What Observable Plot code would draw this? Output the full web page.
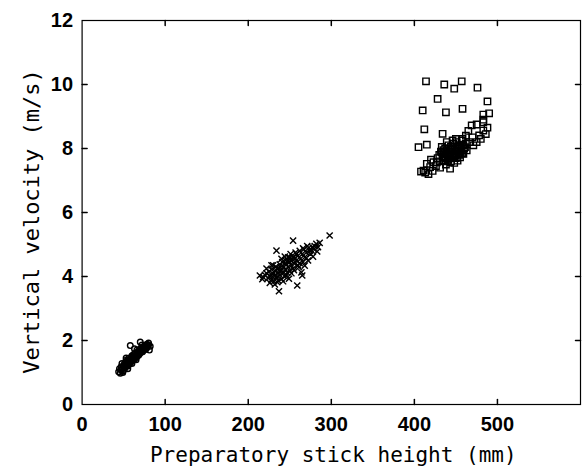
<!DOCTYPE html>
<html><head><meta charset="utf-8">
<script src="https://cdn.jsdelivr.net/npm/d3@7"></script>
<script src="https://cdn.jsdelivr.net/npm/@observablehq/plot@0.6"></script>
<style>
body{margin:0;background:#fff}
</style>
</head><body><div id="chart"></div>
<script>
const xTicks = [0, 100, 200, 300, 400, 500];
const yTicks = [0, 2, 4, 6, 8, 10, 12];
const xLabel = "Preparatory stick height (mm)";
const yLabel = "Vertical velocity (m/s)";

// circles (low cluster)
const circleX = [44,46,47,48,49,50,50,51,52,52,53,54,54,55,56,56,57,58,58,59,60,60,61,62,62,63,64,64,65,66,66,67,68,68,69,70,70,71,72,72,73,74,74,75,76,76,77,78,78,80,79,70,58,63,53,55,60,65,82,81,48,45,47,51,55,57,59,61,63,65,67,69,71,73,75,77,49,53,56,62,66,72,76,80];
const circleY = [1.02,0.98,1.08,1.12,1.05,1.15,1.22,1.10,1.25,1.18,1.30,1.20,1.35,1.28,1.38,1.24,1.32,1.42,1.30,1.48,1.36,1.52,1.44,1.40,1.56,1.50,1.46,1.60,1.55,1.62,1.50,1.58,1.66,1.54,1.70,1.62,1.74,1.68,1.78,1.64,1.72,1.80,1.70,1.76,1.85,1.72,1.80,1.88,1.78,1.92,1.84,1.95,1.84,1.74,1.45,1.12,1.28,1.40,1.82,1.70,1.28,1.12,1.18,1.28,1.20,1.40,1.34,1.50,1.42,1.48,1.64,1.58,1.74,1.66,1.82,1.74,1.00,1.38,1.44,1.48,1.70,1.86,1.80,1.86];

// crosses (middle cluster)
const crossX = [214,218,220,222,224,225,226,228,228,230,231,232,233,234,235,236,236,237,238,238,240,240,241,242,243,244,245,245,246,247,248,248,249,250,250,251,252,253,254,254,255,256,257,258,259,260,260,261,262,263,264,265,266,267,268,270,272,273,275,276,278,280,282,284,283,298,234,228,232,244,268,265,222,226,230,236,240,242,246,250,252,255,258,262,244,238,233,248,256,270,274,279,277,271,266,286,217,229,239,251];
const crossY = [4.03,3.98,4.05,4.10,3.95,4.15,4.02,3.90,4.22,4.08,3.85,4.18,4.30,3.98,3.82,4.12,4.25,3.54,4.05,4.38,4.20,3.92,4.45,4.10,4.30,4.00,4.50,4.22,4.38,4.12,4.60,4.30,3.93,4.45,4.18,4.70,4.35,4.55,5.12,4.25,4.62,4.40,4.75,4.50,3.72,4.65,4.35,4.29,4.80,4.55,4.13,4.70,4.45,4.85,4.60,4.75,4.50,4.90,4.70,4.82,4.62,4.95,5.02,4.92,4.78,5.28,4.81,4.35,3.75,4.62,4.34,4.03,4.25,3.80,4.35,3.88,4.55,3.85,4.05,4.58,4.10,4.20,4.70,4.42,4.40,4.15,4.05,4.48,4.55,4.58,4.80,4.85,4.92,4.95,4.88,5.05,3.92,4.00,4.28,4.50];

// squares (high cluster)
const squareX = [414,436,448,457,476,428,488,410,438,458,483,490,483,412,434,469,475,483,483,478,488,480,486,471,465,462,470,458,475,466,405,415,411,419,415,423,427,435,443,413,417,422,408,420,426,431,438,430,432,434,436,437,438,439,440,441,442,443,444,445,446,447,448,449,450,451,452,453,454,455,456,457,458,460,462,459,446,441,435,450,444,428,455,463,459,448,452,433,439,436,442,447,451,456,440,445,449,454,437,443,453,461,457,433];
const squareY = [10.1,10.0,9.87,10.1,9.9,9.55,9.47,9.19,9.13,9.24,9.06,9.1,8.9,8.6,8.46,8.72,8.75,8.82,8.56,8.41,8.65,8.3,8.45,8.1,8.55,8.4,8.35,8.3,8.2,8.2,8.04,8.12,7.31,7.42,7.52,7.57,7.57,7.63,7.37,7.25,7.2,7.3,7.28,7.65,7.45,7.4,7.5,7.8,7.9,7.75,7.85,8.0,7.7,7.95,7.82,8.1,7.75,7.9,8.05,7.8,7.95,8.15,7.85,8.0,7.7,8.2,7.9,8.05,7.8,8.1,7.95,8.25,7.85,8.0,8.15,8.1,8.25,7.65,7.95,8.3,7.6,7.7,7.72,7.94,7.83,7.55,7.62,8.05,8.2,7.72,7.88,7.72,8.0,7.86,7.6,7.98,7.78,7.92,7.62,7.7,7.84,8.04,8.12,7.88];

const circles = circleX.map((x, i) => ({x, y: circleY[i]}));
const crosses = crossX.map((x, i) => ({x, y: crossY[i]}));
const squares = squareX.map((x, i) => ({x, y: squareY[i]}));

const tickShape = {draw(context, l) { context.moveTo(0, 0); context.lineTo(0, -l); }};
const tickFont = '"Liberation Sans", Arial, sans-serif';
const titleFont = '"DejaVu Sans Mono", "Liberation Mono", monospace';

const chart = Plot.plot({
  width: 584, height: 468,
  marginLeft: 81.6, marginRight: 4, marginTop: 20, marginBottom: 64,
  x: {domain: [0, 600]},
  y: {domain: [0, 12]},
  style: {background: "white", color: "black"},
  marks: [
    Plot.frame({stroke: "black", strokeWidth: 1.2}),
    Plot.axisX(xTicks, {tickSize: 0, tickPadding: 12, fontSize: 20, fontFamily: tickFont, fontWeight: "bold", label: null}),
    Plot.axisY(yTicks, {tickSize: 0, tickPadding: 9, fontSize: 20, fontFamily: tickFont, fontWeight: "bold", label: null}),
    Plot.vector(xTicks.slice(1), {x: d => d, frameAnchor: "bottom", anchor: "start", length: 5, rotate: 0, shape: tickShape, stroke: "black"}),
    Plot.vector(xTicks.slice(1), {x: d => d, frameAnchor: "top", anchor: "start", length: 5, rotate: 180, shape: tickShape, stroke: "black"}),
    Plot.vector(yTicks.slice(1, -1), {y: d => d, frameAnchor: "left", anchor: "start", length: 5, rotate: 90, shape: tickShape, stroke: "black"}),
    Plot.vector(yTicks.slice(1, -1), {y: d => d, frameAnchor: "right", anchor: "start", length: 5, rotate: -90, shape: tickShape, stroke: "black"}),
    Plot.dot(circles, {x: "x", y: "y", symbol: "circle", r: 2.8, stroke: "black", fill: "none", strokeWidth: 1.4}),
    Plot.dot(crosses, {x: "x", y: "y", symbol: "times", r: 2.9, stroke: "black", strokeWidth: 1.4}),
    Plot.dot(squares, {x: "x", y: "y", symbol: "square", r: 3.6, stroke: "black", fill: "none", strokeWidth: 1.4}),
    Plot.text([xLabel], {frameAnchor: "bottom", dy: 51, dx: 2, fontSize: 21, fontFamily: titleFont, textAnchor: "middle", lineAnchor: "middle", fill: "black"}),
    Plot.text([yLabel], {frameAnchor: "left", rotate: -90, dx: -50, dy: 9, fontSize: 22, fontFamily: titleFont, textAnchor: "middle", lineAnchor: "middle", fill: "black"})
  ]
});
document.getElementById("chart").append(chart);
</script>
</body></html>
